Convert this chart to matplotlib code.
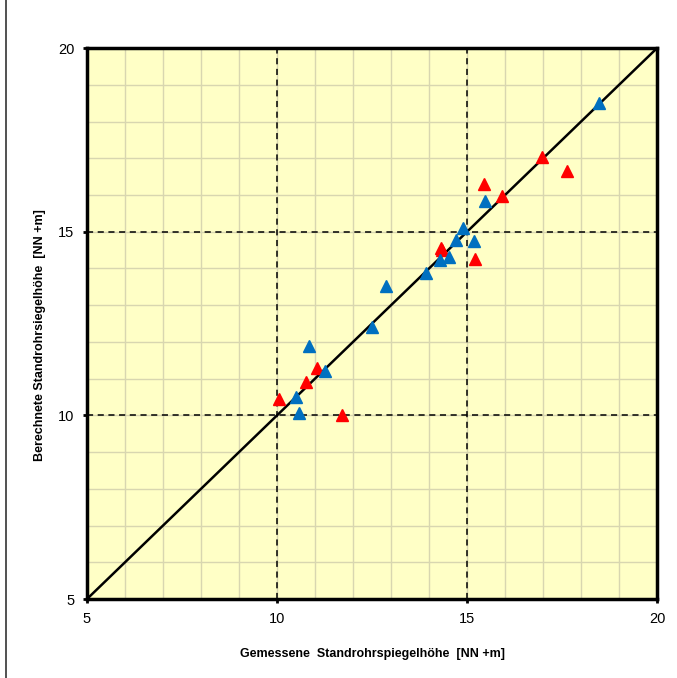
import matplotlib
matplotlib.use("Agg")
import matplotlib.pyplot as plt
from matplotlib.lines import Line2D

plt.rcParams['font.family'] = ['Liberation Sans', 'DejaVu Sans']

# Measured vs. computed standpipe water levels [NN +m]
blue_measured = [18.48, 15.47, 14.90, 15.18, 14.70, 14.53, 14.29, 13.91, 12.87,
                 12.49, 10.85, 11.26, 10.49, 10.59]
blue_computed = [18.50, 15.84, 15.11, 14.75, 14.77, 14.30, 14.23, 13.87, 13.52,
                 12.41, 11.90, 11.22, 10.51, 10.07]

red_measured = [16.96, 17.62, 15.45, 15.91, 14.31, 14.35, 15.21, 11.04, 10.76,
                10.06, 11.70]
red_computed = [17.03, 16.66, 16.30, 15.98, 14.55, 14.50, 14.26, 11.30, 10.92,
                10.44, 10.01]

axis_ticks = [5, 10, 15, 20]
minor_ticks = list(range(5, 21))

fig = plt.figure(figsize=(6.77, 6.78), dpi=100)
ax = fig.add_axes([0.1285, 0.1165, 0.842, 0.8125])
ax.set_facecolor('#FFFFC6')

ax.set_xlim(5, 20)
ax.set_ylim(5, 20)

# light minor grid every 1 m
for v in minor_ticks:
    ax.axvline(v, color='#D8D6B0', lw=1.0, zorder=0)
    ax.axhline(v, color='#D8D6B0', lw=1.0, zorder=0)
# dashed major grid
for v in [10, 15]:
    ax.axvline(v, color='black', lw=1.1, ls=(0, (4, 3)), zorder=1)
    ax.axhline(v, color='black', lw=1.1, ls=(0, (4, 3)), zorder=1)

# 1:1 line
ax.plot([5, 20], [5, 20], color='black', lw=1.8, zorder=2)

ax.plot(red_measured, red_computed, ls='none', marker='^', ms=8.5,
        color='#FF0000', mec='#FF0000', zorder=3)
ax.plot(blue_measured, blue_computed, ls='none', marker='^', ms=8.5,
        color='#0070C0', mec='#0070C0', zorder=4)

ax.set_xticks(axis_ticks)
ax.set_yticks(axis_ticks)
ax.tick_params(length=3, width=2, labelsize=10.5, color='black', pad=6)
for s in ax.spines.values():
    s.set_linewidth(2.5)
    s.set_color('black')

ax.set_xlabel('Gemessene  Standrohrspiegelhöhe  [NN +m]', fontsize=9,
              fontweight='bold', labelpad=16)
ax.set_ylabel('Berechnete Standrohrsiegelhöhe  [NN +m]', fontsize=9,
              fontweight='bold', labelpad=8)
ax.yaxis.set_label_coords(-0.072, 0.48)

# frame line at the left edge of the figure
fig.add_artist(Line2D([0.0095, 0.0095], [0, 1], transform=fig.transFigure,
                      color='#333333', lw=1.2))

fig.savefig('out.png', dpi=100, facecolor='white')
